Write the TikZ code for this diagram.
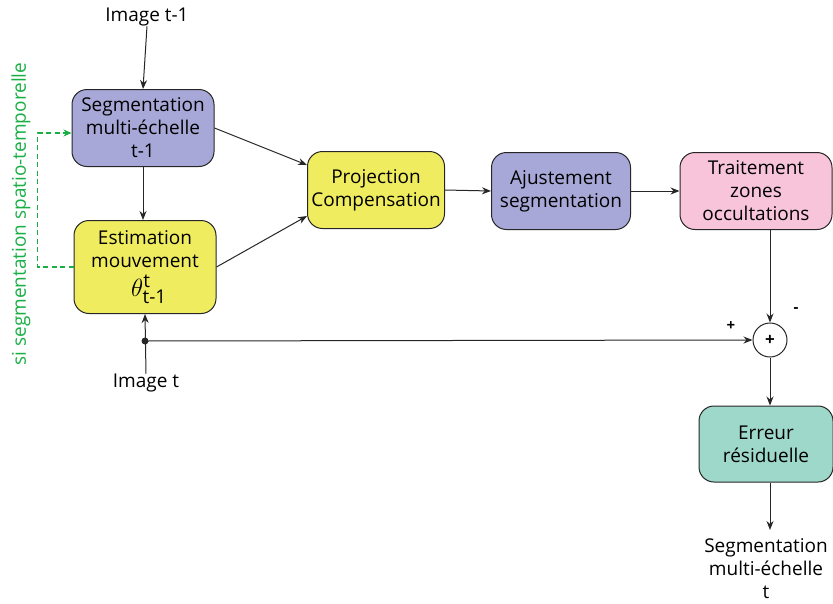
\documentclass[tikz,border=0pt]{standalone}
\usepackage{fontspec}
\setmainfont{Open Sans}
\usetikzlibrary{arrows.meta}
\definecolor{lav}{HTML}{A8A8D8}
\definecolor{yel}{HTML}{F0EC60}
\definecolor{pnk}{HTML}{F8C4DA}
\definecolor{teal2}{HTML}{9ED8CA}
\definecolor{grn}{HTML}{1AAF45}
\newcommand{\txtsz}{\fontsize{19}{23}\selectfont}
\begin{document}
\begin{tikzpicture}[x=1pt,y=-1pt,
  font=\txtsz,
  blk/.style={draw=black!85, line width=1pt, rounded corners=15pt, align=center, inner sep=0pt},
  arr/.style={-{Stealth[length=9pt,width=7pt]}, line width=1pt, black!85},
  lbl/.style={align=center, inner sep=0pt}]
\useasboundingbox (0,0) rectangle (833,603);
\node[blk, fill=lav, minimum width=142pt, minimum height=77pt] (seg) at (143,128) {Segmentation\\multi-échelle\\t-1};
\node[blk, fill=yel, minimum width=142pt, minimum height=93pt] (est) at (145,267) {Estimation\\mouvement\\[6pt]\hspace*{8pt}{\fontsize{26}{28}\selectfont$\theta^{\mbox{\txtsz t}}_{\mbox{\txtsz t-1}}$}};
\node[blk, fill=yel, minimum width=137pt, minimum height=77pt] (proj) at (376,190) {Projection\\Compensation};
\node[blk, fill=lav, minimum width=139pt, minimum height=77pt] (aj) at (561,191) {Ajustement\\segmentation};
\node[blk, fill=pnk, minimum width=152pt, minimum height=77pt] (tr) at (756,191) {Traitement\\zones\\occultations};
\node[draw=black!85, line width=1pt, circle, minimum size=34pt, inner sep=0pt, font=\fontsize{17}{20}\selectfont\bfseries] (sum) at (770,340) {+};
\node[blk, fill=teal2, minimum width=134pt, minimum height=76pt] (err) at (766,444) {Erreur\\résiduelle};
\node[lbl] (imt1) at (147,17) {Image t-1};
\node[lbl] (imt) at (146,383) {Image t};
\node[lbl] (out) at (766,569) {Segmentation\\multi-échelle\\t};
\node[lbl, font=\fontsize{15}{15}\selectfont\bfseries] (plus) at (731,326) {+};
\node[lbl, font=\fontsize{15}{15}\selectfont\bfseries] (minus) at (796,310) {-};
\node[lbl, text=grn, rotate=90] (si) at (21,214) {si segmentation spatio-temporelle};
\coordinate (dot) at (145,341);
\coordinate (outend) at (770,530);
\draw[arr] (imt1.south) -- (seg.north);
\draw[arr] (seg.south) -- (est.north-|seg.south);
\draw[arr] (imt.north) -- (est.south);
\fill[black!85] (dot) circle (3.5pt);
\draw[arr] (dot) -- (sum.west);
\draw[arr] (seg.east) -- ([yshift=25pt]proj.west);
\draw[arr] (est.east) -- ([yshift=-26pt]proj.west);
\draw[arr] (proj.east) -- (aj.west);
\draw[arr] (aj.east) -- (tr.west);
\draw[arr] (tr.south-|sum.north) -- (sum.north);
\draw[arr] (sum.south) -- (err.north-|sum.south);
\draw[arr] (err.south-|sum.south) -- (outend);
\draw[draw=grn, line width=1.3pt, dash pattern=on 5pt off 3.5pt, -{Stealth[length=8pt,width=7pt]}] (est.west) -- ++(-36,0) |- ([yshift=-5pt]seg.west);
\end{tikzpicture}
\end{document}
